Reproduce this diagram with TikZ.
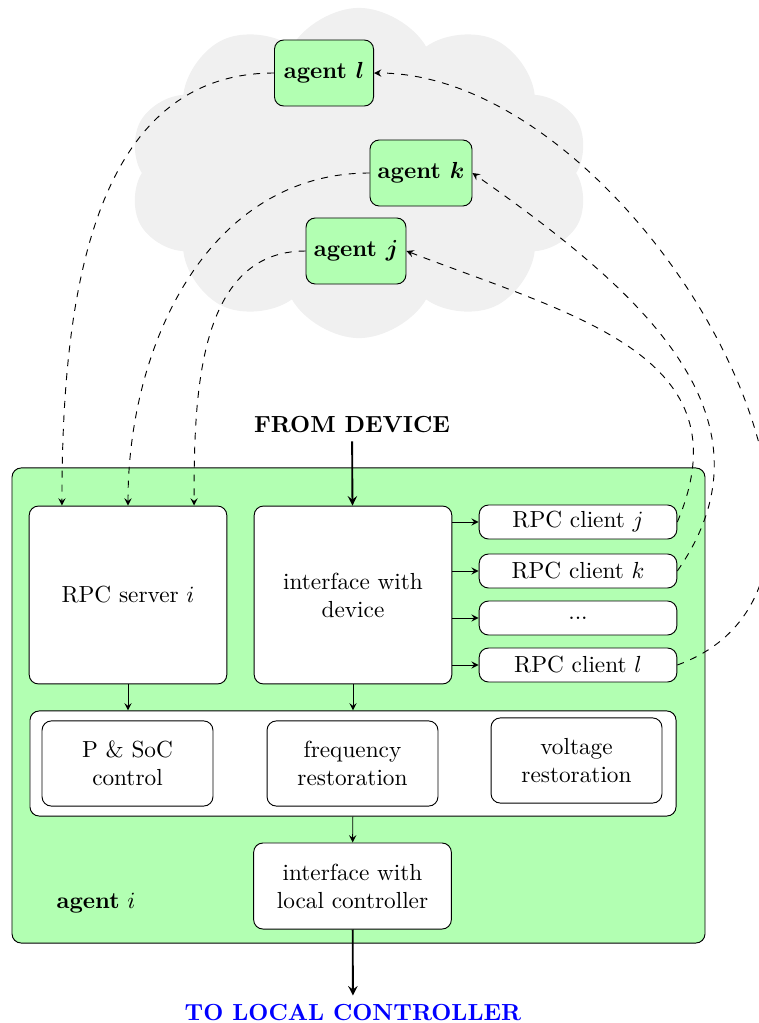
\documentclass[tikz,border=0pt]{standalone}
\usepackage{bm}
\usetikzlibrary{shapes.symbols,arrows}

\begin{document}
\begin{tikzpicture}[
    x=0.43pt, y=0.43pt,
    agent/.style={draw, fill=green!30, rounded corners=4pt, minimum width=42.6pt, minimum height=28.4pt, font=\bfseries},
    block/.style={draw, fill=white, rounded corners=4pt, align=center, minimum width=85pt, minimum height=76.5pt},
    client/.style={draw, fill=white, rounded corners=4pt, minimum width=85pt, minimum height=14.6pt, inner sep=1pt},
    ctrl/.style={draw, fill=white, rounded corners=4pt, align=center, minimum width=73.5pt, minimum height=36.6pt},
    arrow/.style={->, >=stealth},
    link/.style={->, >=stealth, dashed}
]
    \useasboundingbox (0,0) rectangle (758,-1023);

    % other agents
    \node[cloud, cloud puffs=10, cloud puff arc=120, aspect=1.4, fill=gray!12, minimum width=198pt, minimum height=142pt] (net) at (359,-173) {};
    \node[agent] (agl) at (324,-73) {agent $\bm{l}$};
    \node[agent] (agk) at (421,-173) {agent $\bm{k}$};
    \node[agent] (agj) at (356,-251) {agent $\bm{j}$};

    % agent i
    \node[draw, fill=green!30, rounded corners=4pt, minimum width=298pt, minimum height=204.3pt] (agi) at (358.5,-705.5) {};
    \node (agilabel) at (96,-903) {\textbf{agent} $i$};

    \node[block] (server) at (128,-595) {RPC server $i$};
    \node[block] (ifdev) at (353,-595) {interface with\\device};
    \node[client] (cj) at (578,-522) {RPC client $j$};
    \node[client] (ck) at (578,-571) {RPC client $k$};
    \node[client] (cdots) at (578,-618) {...};
    \node[client] (cl) at (578,-665) {RPC client $l$};

    \node[draw, fill=white, rounded corners=4pt, minimum width=277.8pt, minimum height=45.2pt] (ctrls) at (353,-763.5) {};
    \node[ctrl] (psoc) at (127.5,-763.5) {P \& SoC\\control};
    \node[ctrl] (freq) at (352.5,-763.5) {frequency\\restoration};
    \node[ctrl] (volt) at (576.5,-760.5) {voltage\\restoration};

    \node[block, minimum height=37pt] (iflc) at (352.5,-886) {interface with\\local controller};

    \node[font=\bfseries] (from) at (352,-425) {FROM DEVICE};
    \node[font=\bfseries, text=blue] (to) at (353,-1012) {TO LOCAL CONTROLLER};

    % solid connections
    \draw[arrow, thick] (from) -- (ifdev);
    \foreach \c in {cj,ck,cdots,cl}
        \draw[arrow] (ifdev.east |- \c.west) -- (\c.west);
    \draw[arrow] (server) -- (server |- ctrls.north);
    \draw[arrow] (ifdev) -- (ifdev |- ctrls.north);
    \draw[arrow] (ctrls) -- (iflc);
    \draw[arrow, thick] (iflc) -- (to);

    % messages
    \draw[link] (agl.west) to[out=180,in=90] ([xshift=-28.4pt]server.north);
    \draw[link] (agk.west) to[out=180,in=90] (server.north);
    \draw[link] (agj.west) to[out=180,in=90] ([xshift=28.4pt]server.north);
    \draw[link] (cj.east) to[out=67,in=-21,looseness=1.2] (agj.east);
    \draw[link] (ck.east) to[out=55,in=-35,looseness=1.1] (agk.east);
    \draw[link] (cl.east) to[out=20,in=0] (agl.east);
\end{tikzpicture}
\end{document}
